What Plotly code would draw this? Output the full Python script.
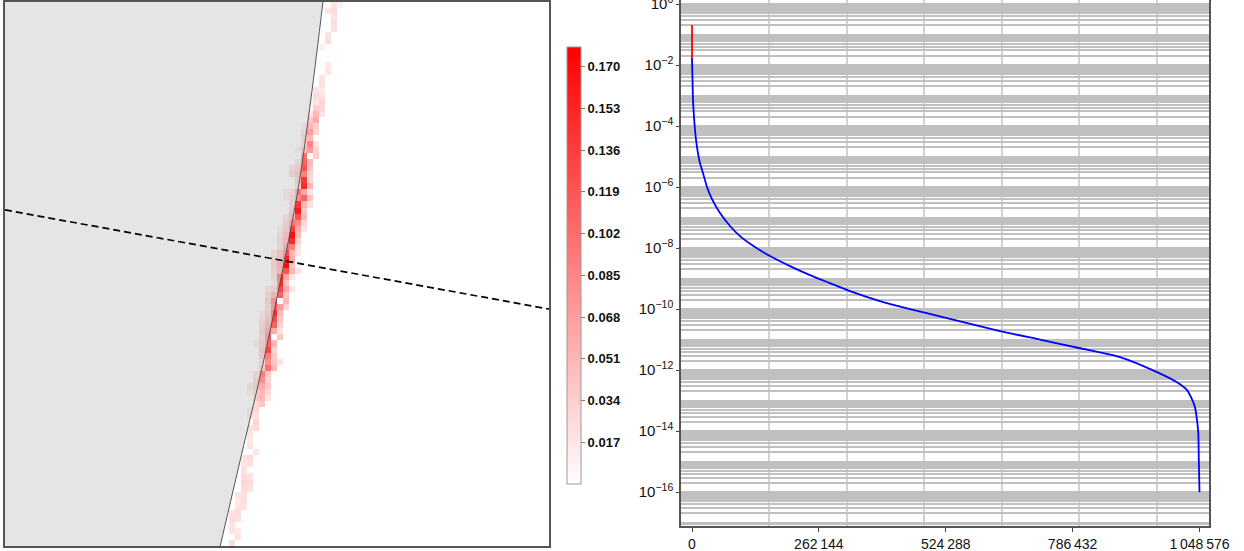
import numpy as np
import plotly.graph_objects as go

# ---------------- left panel: sparse density grid ----------------
N = 90  # cells per side

# row -> (first column, cell values to the right of it)
cell_rows = {
    0: (54, [0.020, 0.012]),
    1: (53, [0.020, 0.025]),
    2: (54, [0.020]),
    3: (54, [0.025]),
    4: (54, [0.022]),
    5: (53, [0.020]),
    6: (53, [0.025]),
    7: (52, [0.012]),
    10: (53, [0.015]),
    11: (53, [0.018]),
    12: (52, [0.020]),
    13: (52, [0.022]),
    14: (51, [0.020, 0.015]),
    15: (51, [0.025, 0.020]),
    16: (50, [0.012, 0.020, 0.030]),
    17: (50, [0.0, 0.035, 0.030]),
    18: (50, [0.020, 0.050, 0.020]),
    19: (50, [0.040, 0.060]),
    20: (49, [0.020, 0.050, 0.035]),
    21: (49, [0.030, 0.070, 0.030]),
    22: (49, [0.040, 0.050]),
    23: (49, [0.035, 0.085, 0.020]),
    24: (48, [0.020, 0.050, 0.070, 0.030]),
    25: (49, [0.100, 0.0, 0.035]),
    26: (48, [0.030, 0.110, 0.050]),
    27: (47, [0.030, 0.050, 0.120, 0.040]),
    28: (47, [0.040, 0.060, 0.090, 0.030]),
    29: (48, [0.050, 0.140, 0.030]),
    30: (48, [0.040, 0.150, 0.050]),
    31: (46, [0.020, 0.030, 0.100, 0.060, 0.020]),
    32: (46, [0.020, 0.040, 0.080, 0.110, 0.040]),
    33: (47, [0.040, 0.140, 0.050, 0.020]),
    34: (47, [0.050, 0.160, 0.040]),
    35: (46, [0.030, 0.060, 0.120, 0.050]),
    36: (46, [0.040, 0.100, 0.080, 0.030]),
    37: (45, [0.020, 0.050, 0.140, 0.060, 0.020]),
    38: (45, [0.030, 0.070, 0.170, 0.050]),
    39: (45, [0.040, 0.080, 0.150, 0.030]),
    40: (45, [0.030, 0.100, 0.090, 0.020]),
    41: (44, [0.030, 0.060, 0.130, 0.050, 0.020]),
    42: (44, [0.040, 0.070, 0.160, 0.060]),
    43: (44, [0.050, 0.090, 0.170, 0.040]),
    44: (44, [0.040, 0.080, 0.120, 0.050, 0.020]),
    45: (44, [0.030, 0.160, 0.060, 0.020]),
    46: (44, [0.020, 0.150, 0.040]),
    47: (43, [0.030, 0.050, 0.130, 0.060, 0.020]),
    48: (43, [0.040, 0.080, 0.110, 0.040]),
    49: (43, [0.050, 0.140, 0.0, 0.050]),
    50: (43, [0.040, 0.120, 0.070, 0.030]),
    51: (42, [0.020, 0.050, 0.150, 0.050]),
    52: (42, [0.030, 0.060, 0.130, 0.040]),
    53: (42, [0.040, 0.080, 0.110, 0.030]),
    54: (42, [0.050, 0.100, 0.060, 0.020]),
    55: (42, [0.040, 0.120, 0.0, 0.040]),
    56: (41, [0.020, 0.050, 0.110, 0.050]),
    57: (42, [0.060, 0.130, 0.030]),
    58: (42, [0.050, 0.090, 0.040]),
    59: (42, [0.030, 0.080, 0.040, 0.020]),
    60: (42, [0.040, 0.100, 0.050]),
    61: (41, [0.030, 0.090, 0.040]),
    62: (41, [0.050, 0.080, 0.030]),
    63: (40, [0.030, 0.050, 0.060, 0.040]),
    64: (40, [0.020, 0.040, 0.050, 0.030]),
    65: (41, [0.040, 0.050, 0.020]),
    66: (41, [0.030, 0.040]),
    67: (40, [0.020, 0.030]),
    68: (40, [0.025, 0.020]),
    69: (41, [0.030]),
    70: (40, [0.020, 0.025]),
    71: (40, [0.020]),
    72: (40, [0.015]),
    73: (40, [0.020]),
    74: (41, [0.018]),
    75: (39, [0.020, 0.025]),
    76: (39, [0.020, 0.020]),
    77: (39, [0.020]),
    78: (39, [0.025, 0.020]),
    79: (39, [0.030, 0.025]),
    80: (39, [0.025, 0.020]),
    81: (38, [0.020, 0.020]),
    82: (38, [0.015, 0.025]),
    83: (38, [0.020, 0.020]),
    84: (37, [0.020, 0.025]),
    85: (37, [0.025, 0.020]),
    86: (37, [0.020]),
    87: (37, [0.020, 0.015]),
    88: (38, [0.020]),
    89: (37, [0.025]),
}

# edge of the shaded region (column, row)
edge_col = [52.6, 50.8, 48.6, 46.2, 42.6, 39.1, 35.6]
edge_row = [0.0, 14.6, 30.3, 43.0, 60.2, 75.0, 90.0]

# dashed cut line (column, row)
cut_col = [0.0, 90.0]
cut_row = [34.4, 50.8]

color_ticks = [0.017, 0.034, 0.051, 0.068, 0.085, 0.102, 0.119, 0.136, 0.153, 0.170]
z_max = 0.178

# ---------------- right panel: sorted weights ----------------
head_rank = [0, 1]
head_value = [0.205, 0.017]

tail_rank = [1, 1033, 2066, 4132, 6198, 10331, 16529, 22728, 30992, 41323, 57852,
             78514, 99176, 130168, 161160, 202484, 243807, 285130, 326453, 388438,
             450423, 535136, 636377, 719024, 799604, 884317, 960764, 1002087,
             1022749, 1031014, 1039298, 1043431, 1046117, 1047150, 1048575]
tail_value = [1.70e-2, 3.2e-3, 7.1e-4, 1.97e-4, 7.4e-5, 2.05e-5, 6.1e-6, 2.88e-6,
              1.0e-6, 4.0e-7, 1.41e-7, 5.3e-8, 2.47e-8, 1.08e-8, 5.5e-9, 2.57e-9,
              1.30e-9, 7.1e-10, 3.89e-10, 1.83e-10, 1.0e-10, 4.7e-11, 1.90e-11,
              1.0e-11, 5.3e-12, 2.67e-12, 8.6e-13, 4.0e-13, 2.21e-13, 1.30e-13,
              6.1e-14, 2.30e-14, 8.6e-15, 1.12e-15, 1.0e-16]

x_tick_vals = [0, 262144, 524288, 786432, 1048576]
x_tick_text = ["0", "262\u2009144", "524\u2009288", "786\u2009432", "1\u2009048\u2009576"]
x_grid_vals = [160000, 320000, 480000, 640000, 800000, 960000]
y_label_exps = [0, -2, -4, -6, -8, -10, -12, -14, -16]

FONT = "Arial, Liberation Sans, sans-serif"
W, H = 1244, 551

# build the density grid
z = np.full((N, N), np.nan)
for r, (c0, vals) in cell_rows.items():
    for k, v in enumerate(vals):
        if v > 0:
            z[r, c0 + k] = v

fig = go.Figure()

fig.add_trace(go.Heatmap(
    z=z, x=np.arange(N) + 0.5, y=np.arange(N) + 0.5,
    zmin=0, zmax=z_max,
    colorscale=[[0, "rgb(255,255,255)"], [1, "rgb(255,0,0)"]],
    xaxis="x", yaxis="y", hoverinfo="skip",
    colorbar=dict(
        x=567 / W, xanchor="left", xpad=0, ypad=0,
        y=1 - 265.5 / H, yanchor="middle", len=437 / H, lenmode="fraction",
        thickness=14, thicknessmode="pixels",
        outlinecolor="#9a9a9a", outlinewidth=1,
        tickmode="array", tickvals=color_ticks,
        ticktext=[f"{v:.3f}" for v in color_ticks],
        ticks="outside", ticklen=4, tickcolor="#777",
        tickfont=dict(family=FONT, size=13, color="#111", weight="bold"),
    ),
))

# shaded region left of the edge
poly_col = [0.0] + edge_col + [0.0]
poly_row = [0.0] + edge_row + [90.0]
fig.add_trace(go.Scatter(
    x=poly_col, y=poly_row, mode="lines", fill="toself",
    fillcolor="rgba(212,212,212,0.6)", line=dict(width=0),
    xaxis="x", yaxis="y", hoverinfo="skip", showlegend=False,
))
fig.add_trace(go.Scatter(
    x=edge_col, y=edge_row, mode="lines",
    line=dict(color="#555", width=1, shape="spline", smoothing=0.8),
    xaxis="x", yaxis="y", hoverinfo="skip", showlegend=False,
))
fig.add_trace(go.Scatter(
    x=cut_col, y=cut_row, mode="lines",
    line=dict(color="#000", width=1.7, dash="7px,4px"),
    xaxis="x", yaxis="y", hoverinfo="skip", showlegend=False,
))

# right panel curves
fig.add_trace(go.Scatter(
    x=tail_rank, y=tail_value, mode="lines",
    line=dict(color="rgb(0,0,255)", width=1.8, shape="spline", smoothing=0.6),
    xaxis="x2", yaxis="y2", hoverinfo="skip", showlegend=False,
))
fig.add_trace(go.Scatter(
    x=head_rank, y=head_value, mode="lines",
    line=dict(color="rgb(255,0,0)", width=1.8),
    xaxis="x2", yaxis="y2", hoverinfo="skip", showlegend=False,
))

# minor horizontal grid at every k*10^n
minor_y = [k * 10.0 ** n for n in range(-18, 1) for k in range(1, 10)]

frame = dict(showline=True, mirror=True, linecolor="#555", linewidth=1.5,
             zeroline=False, automargin=False)

fig.update_layout(
    width=W, height=H, autosize=False,
    margin=dict(l=0, r=0, t=0, b=0, autoexpand=False),
    paper_bgcolor="white", plot_bgcolor="white",
    showlegend=False,
    xaxis=dict(domain=[5 / W, 549 / W], range=[0, N], showgrid=False,
               showticklabels=False, ticks="", **frame),
    yaxis=dict(domain=[1 - 546 / H, 1 - 2 / H], range=[N, 0], showgrid=False,
               showticklabels=False, ticks="", **frame),
    xaxis2=dict(
        domain=[681 / W, 1209 / W], anchor="y2",
        range=[-22727, 1068204],
        tickmode="array", tickvals=x_tick_vals, ticktext=x_tick_text,
        ticks="outside", ticklen=4, tickcolor="#444",
        tickfont=dict(family=FONT, size=14, color="#111"),
        ticklabeloverflow="allow",
        showgrid=False,
        minor=dict(tickmode="array", tickvals=x_grid_vals, showgrid=True,
                   gridcolor="rgb(210,210,210)", gridwidth=2, ticks=""),
        **frame,
    ),
    yaxis2=dict(
        domain=[1 - 526 / H, 1.0], anchor="x2", type="log",
        range=[-17.11, 0.131],
        tickmode="array", tickvals=[10.0 ** e for e in y_label_exps],
        ticktext=[f"10<sup>{'−' if e < 0 else ''}{abs(e)}</sup>" for e in y_label_exps],
        ticks="outside", ticklen=3, tickcolor="#444",
        tickfont=dict(family=FONT, size=15, color="#111"),
        ticklabeloverflow="allow",
        showgrid=True, gridcolor="rgb(192,192,192)", gridwidth=1.6,
        minor=dict(tickmode="array", tickvals=minor_y, showgrid=True,
                   gridcolor="rgb(192,192,192)", gridwidth=1.6, ticks=""),
        **frame,
    ),
)

fig.write_html("out.html")
